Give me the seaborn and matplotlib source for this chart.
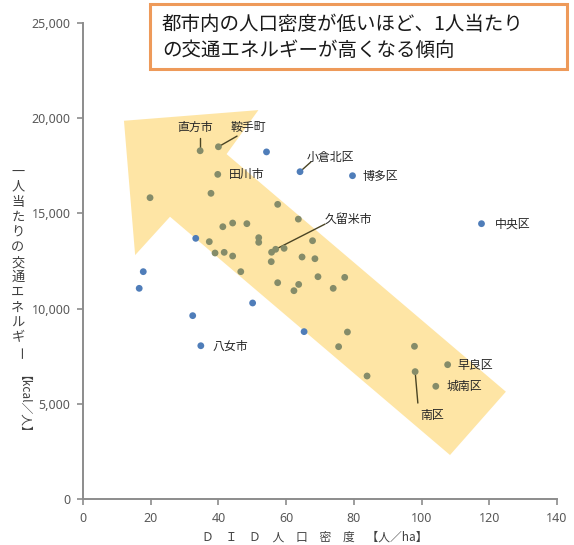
import matplotlib
matplotlib.use("Agg")
import matplotlib.pyplot as plt
from matplotlib.patches import Polygon, Rectangle
import numpy as np
import pandas as pd
import seaborn as sns

sns.set_theme(style="white")
plt.rcParams["font.family"] = ["Noto Sans CJK JP", "DejaVu Sans"]

# DID population density [person/ha] and per-capita transport energy [kcal/person]
dense_x = [34.6, 40.0, 39.8, 37.8, 19.8, 57.5, 63.6, 41.3, 44.2, 48.4, 37.3, 51.9,
           51.9, 39.0, 41.7, 44.2, 46.6, 55.7, 56.9, 59.4, 55.6, 67.8, 64.7, 68.5,
           57.5, 69.4, 77.3, 63.7, 62.3, 73.9, 78.1, 75.5, 97.9, 107.7, 98.1, 83.9,
           104.2]
dense_y = [18290, 18500, 17050, 16055, 15825, 15475, 14700, 14300, 14495, 14460,
           13515, 13725, 13480, 12920, 12955, 12760, 11940, 12960, 13115, 13165,
           12465, 13565, 12710, 12620, 11360, 11675, 11640, 11270, 10940, 11065,
           8770, 8000, 8020, 7055, 6690, 6460, 5920]
other_x = [54.2, 64.1, 79.6, 117.7, 33.3, 17.8, 16.6, 50.1, 32.4, 65.3, 34.8]
other_y = [18230, 17190, 16980, 14460, 13690, 11940, 11065, 10295, 9630, 8790, 8050]

# Named cities: (name, x, y, label x, label y, ha, leader start or None)
labels = [
    ("直方市", 34.6, 18290, 33.1, 19530, "center", (34.6, 18950)),
    ("鞍手町", 40.0, 18500, 48.7, 19530, "center", (45.5, 19060)),
    ("田川市", 39.8, 17050, 43.1, 17065, "left", None),
    ("小倉北区", 64.1, 17190, 73.2, 17960, "center", (67.3, 17700)),
    ("博多区", 79.6, 16980, 82.7, 16960, "left", None),
    ("中央区", 117.7, 14460, 121.7, 14440, "left", None),
    ("久留米市", 56.9, 13115, 71.5, 14700, "left", (71.5, 14440)),
    ("八女市", 34.8, 8050, 38.4, 8030, "left", None),
    ("早良区", 107.7, 7055, 110.7, 7035, "left", None),
    ("城南区", 104.2, 5920, 107.5, 5935, "left", None),
    ("南区", 98.1, 6690, 103.1, 4410, "center", (98.9, 5040)),
]

# Trend arrow outline (data coordinates)
arrow_x = [12.1, 51.8, 42.4, 124.9, 108.4, 25.7, 15.4]
arrow_y = [19865, 20425, 18115, 5635, 2310, 14825, 12810]

x_ticks = [0, 20, 40, 60, 80, 100, 120, 140]
y_ticks = [0, 5000, 10000, 15000, 20000, 25000]

df = pd.DataFrame({
    "density": dense_x + other_x,
    "energy": dense_y + other_y,
    "group": ["a"] * len(dense_x) + ["b"] * len(other_x),
})

fig = plt.figure(figsize=(5.74, 5.45), dpi=100)
ax = fig.add_axes([83 / 574, 1 - 499 / 545, (557 - 83) / 574, (499 - 23) / 545])

ax.add_patch(Polygon(np.column_stack([arrow_x, arrow_y]), closed=True,
                     facecolor="#FEE5A5", edgecolor="none", zorder=1))

sns.scatterplot(data=df, x="density", y="energy", hue="group",
                palette={"a": "#858C69", "b": "#4F7DB9"}, s=24,
                linewidth=0, legend=False, ax=ax, zorder=3)

for name, px, py, lx, ly, ha, lead in labels:
    ax.text(lx, ly, name, ha=ha, va="center", fontsize=8.6, color="#262626",
            zorder=4)
    if lead is not None:
        ax.plot([lead[0], px], [lead[1], py], color="#4A4424", lw=1.0, zorder=2)

ax.set_xlim(0, 140)
ax.set_ylim(0, 25000)
ax.set_xticks(x_ticks)
ax.set_yticks(y_ticks)
ax.set_xticklabels([str(v) for v in x_ticks], fontsize=9, color="#595959",
                   family=["Noto Sans", "DejaVu Sans"])
ax.set_yticklabels([f"{v:,}" for v in y_ticks], fontsize=9, color="#595959",
                   family=["Noto Sans", "DejaVu Sans"])
ax.set_xlabel("")
ax.set_ylabel("")
for side in ["top", "right"]:
    ax.spines[side].set_visible(False)
for side in ["left", "bottom"]:
    ax.spines[side].set_color("#8C8C8C")
    ax.spines[side].set_linewidth(1.4)
ax.tick_params(axis="both", direction="out", length=4, width=1.2,
               color="#8C8C8C", pad=5, left=True, bottom=True)

# Vertical y-axis title
ylab = "一人当たりの交通エネルギー"
for i, ch in enumerate(ylab):
    yy = 1 - (172 + i * 15.1) / 545
    rot = -90 if ch == "ー" else 0
    fig.text(18 / 574, yy, ch, ha="center", va="center", fontsize=9.5,
             color="#404040", rotation=rot)
fig.text(18 / 574, 1 - 410 / 545, "【kcal／人】", ha="center", va="center",
         fontsize=8.5, color="#404040", rotation=-90)

# x-axis title
fig.text(315 / 574, 1 - 537 / 545, "Ｄ　Ｉ　Ｄ　人　口　密　度　【人／ha】",
         ha="center", va="center", fontsize=8.5, color="#404040")

# Headline box
fig.patches.append(Rectangle((150 / 574, 1 - 69 / 545), (567 - 150) / 574,
                             (69 - 4) / 545, transform=fig.transFigure,
                             facecolor="white", edgecolor="#EE9A5A", lw=2.2))
fig.text(162 / 574, 1 - 25 / 545, "都市内の人口密度が低いほど、1人当たり",
         ha="left", va="center", fontsize=14, color="#1A1A1A")
fig.text(162 / 574, 1 - 50 / 545, "の交通エネルギーが高くなる傾向",
         ha="left", va="center", fontsize=14, color="#1A1A1A")

fig.savefig("out.png", dpi=100)
